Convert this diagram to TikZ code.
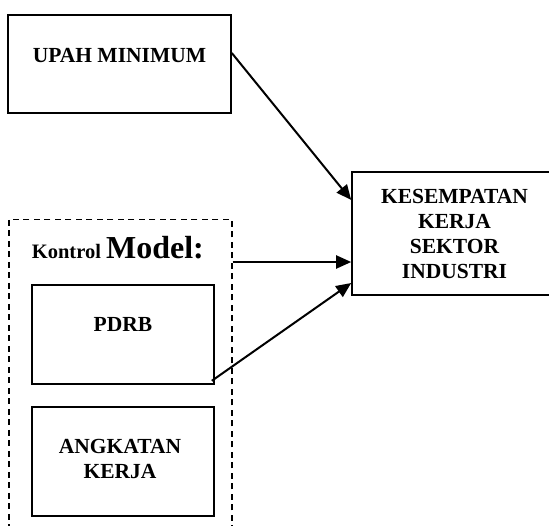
\documentclass[tikz,border=0pt]{standalone}
\usepackage{fontspec}
\setmainfont{Liberation Serif}
\usetikzlibrary{arrows.meta,positioning}

\tikzset{
  box/.style={draw, rectangle, line width=1.6pt, inner sep=0pt},
  txt/.style={font=\fontsize{21.5}{25}\selectfont\bfseries, align=center, inner sep=0pt},
  link/.style={line width=2pt, -{Triangle[length=15pt,width=13pt]}}
}

\begin{document}
\begin{tikzpicture}[x=1pt,y=-1pt]
\useasboundingbox (0,0) rectangle (549,525);
% boxes
\node[box, minimum width=223pt, minimum height=98pt] (upah) at (119.5,64) {};
\node[txt, anchor=base] (upahtxt) at (119.5,62) {UPAH MINIMUM};
\node[box, txt, minimum width=205pt, minimum height=123pt] (kes) at (454.5,233.5) {KESEMPATAN\\KERJA\\SEKTOR\\INDUSTRI};
\node[box, line width=1.5pt, dash pattern=on 6pt off 4.5pt, minimum width=223pt, minimum height=320pt, anchor=north west] (kontrol) at (8,218.5) {};
\node[anchor=base west, inner sep=0pt] (kontroltxt) at (31.7,258) {\bfseries\fontsize{20.5}{24}\selectfont Kontrol \fontsize{32}{36}\selectfont Model:};
\node[box, minimum width=182pt, minimum height=99pt] (pdrb) at (123,334.5) {};
\node[txt, anchor=base] (pdrbtxt) at (123,331.7) {PDRB};
\node[box, minimum width=182pt, minimum height=109.3pt] (angkatan) at (123,461.35) {};
\node[txt] (angkatantxt) at (120,458.5) {ANGKATAN\\KERJA};
% arrows
\coordinate (kin) at ([yshift=-28.5pt]kes.west);
\draw[link] ([yshift=11pt]upah.east) -- ([yshift=33.5pt]kes.west);
\draw[link] (kin -| kontrol.east) -- (kin);
\draw[link] ([shift={(-3pt,4pt)}]pdrb.south east) -- ([yshift=-49.5pt]kes.west);
\end{tikzpicture}
\end{document}
